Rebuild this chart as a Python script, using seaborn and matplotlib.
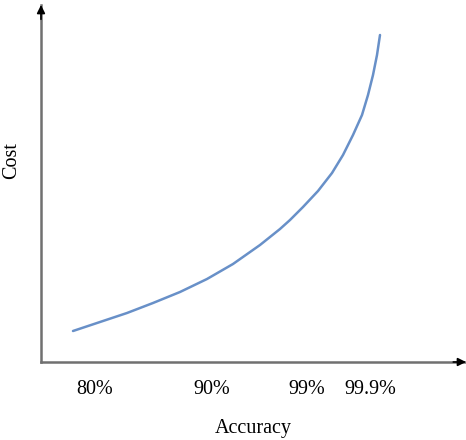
import matplotlib
matplotlib.use("Agg")
import matplotlib.pyplot as plt
import seaborn as sns
import pandas as pd

# curve (arbitrary units, axis length 425 x 357)
accuracy_pos = [32, 59, 86, 112, 139, 166, 192, 219, 239, 249,
                262, 277, 291, 302, 312, 321, 327, 332, 336, 339]
cost = [31, 40, 49, 59, 70, 83, 98, 117, 133, 142,
        155, 171, 189, 207, 227, 247, 267, 287, 307, 327]

tick_pos = [54, 171, 266, 329]
tick_labels = ["80%", "90%", "99%", "99.9%"]

sns.set_theme(style="white")
plt.rcParams['font.family'] = ['Liberation Serif', 'DejaVu Serif']

W, H = 466, 440
fig = plt.figure(figsize=(W / 100, H / 100), dpi=100)
ax = fig.add_axes([41 / W, 78 / H, 425 / W, 357 / H])

df = pd.DataFrame({"Accuracy": accuracy_pos, "Cost": cost})
sns.lineplot(data=df, x="Accuracy", y="Cost", ax=ax, color="#6890c8",
             linewidth=1.8, estimator=None, sort=False)

ax.set_xlim(0, 425)
ax.set_ylim(0, 357)

# axes with arrow heads
for side in ["top", "right"]:
    ax.spines[side].set_visible(False)
for side in ["left", "bottom"]:
    ax.spines[side].set_color("#707070")
    ax.spines[side].set_linewidth(1.8)
ax.annotate("", xy=(1.0, 0), xytext=(0.97, 0), xycoords="axes fraction",
            arrowprops=dict(arrowstyle="-|>", color="black", lw=1.2,
                            mutation_scale=12, shrinkA=0, shrinkB=0),
            annotation_clip=False)
ax.annotate("", xy=(0, 1.0), xytext=(0, 0.96), xycoords="axes fraction",
            arrowprops=dict(arrowstyle="-|>", color="black", lw=1.2,
                            mutation_scale=12, shrinkA=0, shrinkB=0),
            annotation_clip=False)

ax.set_xticks(tick_pos)
ax.set_xticklabels(tick_labels, fontsize=14.5)
ax.set_yticks([])
ax.tick_params(axis="x", length=0, pad=13, colors="black")

ax.set_xlabel("Accuracy", fontsize=14.5, color="black", va="center")
ax.xaxis.set_label_coords(0.5, -0.185)
ax.set_ylabel("Cost", fontsize=14.5, color="black", va="center")
ax.yaxis.set_label_coords(-0.068, 0.563)

fig.savefig("out.png", dpi=100)
